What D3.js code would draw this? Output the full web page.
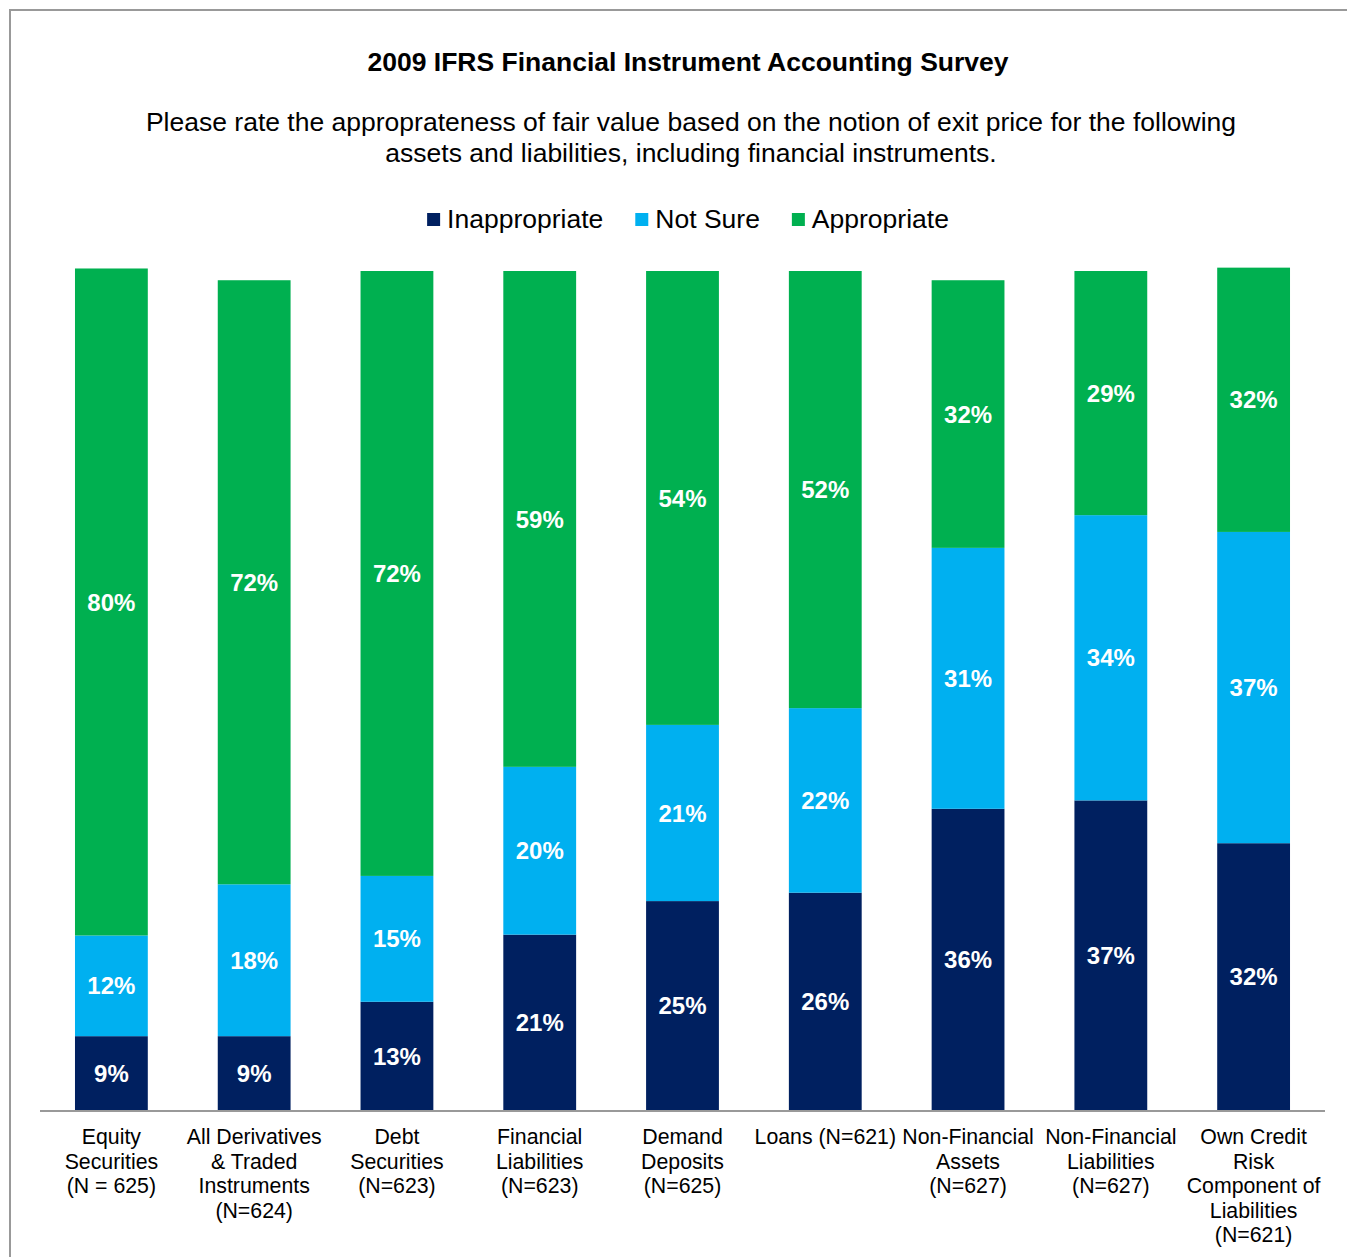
<!DOCTYPE html>
<html>
<head>
<meta charset="utf-8">
<script src="https://cdn.jsdelivr.net/npm/d3@7"></script>
<style>
  body { margin: 0; background: #fff; }
  svg { display: block; font-family: "Liberation Sans", Arial, sans-serif; }
</style>
</head>
<body>
<div id="chart"></div>
<script>
// Survey data (percent of respondents)
const categories = [
    ['Equity', 'Securities', '(N = 625)'],
    ['All Derivatives', '& Traded', 'Instruments', '(N=624)'],
    ['Debt', 'Securities', '(N=623)'],
    ['Financial', 'Liabilities', '(N=623)'],
    ['Demand', 'Deposits', '(N=625)'],
    ['Loans (N=621)'],
    ['Non-Financial', 'Assets', '(N=627)'],
    ['Non-Financial', 'Liabilities', '(N=627)'],
    ['Own Credit', 'Risk', 'Component of', 'Liabilities', '(N=621)']
];
const seriesNames = ['Inappropriate', 'Not Sure', 'Appropriate'];
const inappropriate = [8.8, 8.8, 12.9, 20.9, 24.9, 25.9, 35.9, 36.9, 31.8];
const notSure = [12.0, 18.1, 15.0, 20.0, 21.0, 22.0, 31.1, 34.0, 37.1];
const appropriate = [79.5, 72.0, 72.1, 59.1, 54.1, 52.1, 31.9, 29.1, 31.5];

const subtitle = [
    'Please rate the approprateness of fair value based on the notion of exit price for the following',
    'assets and liabilities, including financial instruments.'
];

const W = 1347;
const H = 1257;
const BASE = 1110;
const TOP100 = 271;

const svg = d3
    .select('#chart')
    .append('svg')
    .attr('width', W)
    .attr('height', H);

// Frame
svg.append('path')
    .attr('d', `M10,${H} V10 H${W}`)
    .attr('fill', 'none')
    .attr('stroke', '#999')
    .attr('stroke-width', 2);

// Titles
svg.append('text')
    .attr('x', 688)
    .attr('y', 71)
    .attr('text-anchor', 'middle')
    .attr('font-size', '26.5px')
    .attr('font-weight', 'bold')
    .attr('fill', '#000')
    .text('2009 IFRS Financial Instrument Accounting Survey');

svg.append('g')
    .selectAll('text')
    .data(subtitle)
    .join('text')
    .attr('x', 691)
    .attr('y', (d, i) => 131 + i * 31)
    .attr('text-anchor', 'middle')
    .attr('font-size', '26.5px')
    .attr('fill', '#000')
    .text(d => d);

const color = d3.scaleOrdinal()
    .domain(seriesNames)
    .range(['#002060', '#00b0f0', '#00b050']);

// Legend
const legend = svg.append('g');
let lx = 0;
seriesNames.forEach(name => {
    const g = legend.append('g').attr('transform', `translate(${lx},0)`);
    g.append('rect')
        .attr('x', 0)
        .attr('y', 213)
        .attr('width', 13)
        .attr('height', 13)
        .attr('fill', color(name));
    const t = g.append('text')
        .attr('x', 20)
        .attr('y', 228)
        .attr('font-size', '26.5px')
        .attr('fill', '#000')
        .text(name);
    lx += 20 + t.node().getComputedTextLength() + 32;
});
const legendW = lx - 32;
legend.attr('transform', `translate(${688 - legendW / 2},0)`);

// Scales
const x = d3.scaleBand()
    .domain(d3.range(categories.length))
    .range([40, 1325])
    .paddingInner(0.49)
    .paddingOuter(0.245);

const y = d3.scaleLinear()
    .domain([0, 100])
    .range([BASE, TOP100]);

const rows = categories.map((c, i) => ({
    'Inappropriate': inappropriate[i],
    'Not Sure': notSure[i],
    'Appropriate': appropriate[i]
}));

const stacked = d3.stack().keys(seriesNames)(rows);

const layers = svg.append('g')
    .selectAll('g')
    .data(stacked)
    .join('g')
    .attr('fill', d => color(d.key));

layers.selectAll('rect')
    .data(d => d)
    .join('rect')
    .attr('x', (d, i) => x(i))
    .attr('y', d => y(d[1]))
    .attr('width', x.bandwidth())
    .attr('height', d => y(d[0]) - y(d[1]));

// Value labels
layers.selectAll('text')
    .data(d => d)
    .join('text')
    .attr('x', (d, i) => x(i) + x.bandwidth() / 2)
    .attr('y', d => (y(d[0]) + y(d[1])) / 2)
    .attr('dy', '0.36em')
    .attr('text-anchor', 'middle')
    .attr('font-size', '24px')
    .attr('font-weight', 'bold')
    .attr('fill', '#fff')
    .text(d => Math.round(d[1] - d[0]) + '%');

// Axis line
svg.append('line')
    .attr('x1', 40)
    .attr('x2', 1325)
    .attr('y1', BASE + 1)
    .attr('y2', BASE + 1)
    .attr('stroke', '#999')
    .attr('stroke-width', 2);

// Category labels
svg.append('g')
    .selectAll('text')
    .data(categories)
    .join('text')
    .attr('text-anchor', 'middle')
    .attr('font-size', '21.3px')
    .attr('fill', '#000')
    .each(function (lines, i) {
        d3.select(this)
            .selectAll('tspan')
            .data(lines)
            .join('tspan')
            .attr('x', x(i) + x.bandwidth() / 2)
            .attr('y', (d, j) => 1144 + j * 24.5)
            .text(d => d);
    });
</script>
</body>
</html>
